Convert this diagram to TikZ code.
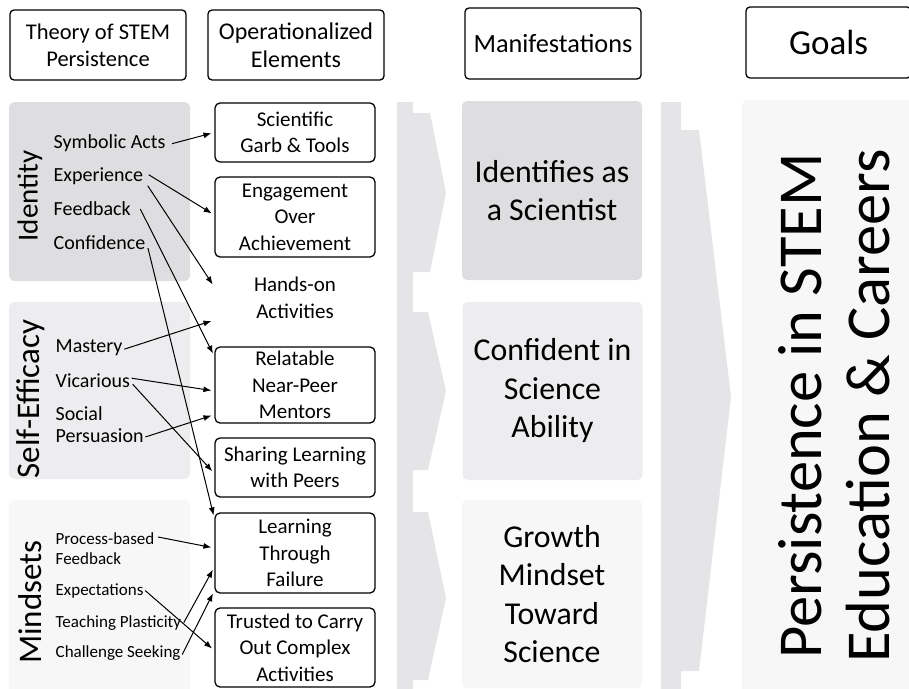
\documentclass[tikz,border=0pt]{standalone}
\usepackage{fontspec}
\setmainfont{Carlito}
\usetikzlibrary{arrows.meta,calc}
\definecolor{shadeA}{RGB}{222,222,224}
\definecolor{shadeB}{RGB}{237,236,238}
\definecolor{shadeC}{RGB}{248,247,248}
\definecolor{chev}{RGB}{229,229,231}
\begin{document}
\begin{tikzpicture}[x=1pt,y=-1pt,
  hdr/.style={draw, line width=1.3pt, rounded corners=4pt, align=center, inner sep=0pt},
  opbox/.style={draw, line width=1.3pt, rounded corners=5pt, align=center,
    minimum width=160pt, inner sep=0pt, font=\fontsize{21}{26.5}\selectfont},
  mbox/.style={rounded corners=5pt, align=center, minimum width=180pt,
    inner sep=0pt, font=\fontsize{31.8}{38.5}\selectfont},
  grp/.style={rounded corners=6pt},
  grplabel/.style={rotate=90, inner sep=0pt},
  item/.style={anchor=base west, inner sep=1.5pt, font=\fontsize{20}{22}\selectfont},
  smallitem/.style={anchor=base west, inner sep=1.5pt, font=\fontsize{17}{20}\selectfont},
  link/.style={line width=1pt, -{Latex[length=8pt,width=6pt]}, shorten >=3pt},
]
\clip (0,0) rectangle (909,688);
\useasboundingbox (0,0) rectangle (909,688);

% column headers
\node[hdr, minimum width=176pt, minimum height=70pt, font=\fontsize{22.5}{27}\selectfont]
  (hth) at (98,45) {Theory of STEM\\Persistence};
\node[hdr, minimum width=176pt, minimum height=70pt, font=\fontsize{24}{28}\selectfont]
  (hop) at (296,45) {Operationalized\\Elements};
\node[hdr, minimum width=176pt, minimum height=71pt, font=\fontsize{26.3}{30}\selectfont]
  (hman) at (553,43.5) {Manifestations};
\node[hdr, minimum width=165pt, minimum height=71pt, font=\fontsize{35}{40}\selectfont]
  (hgoal) at (828.5,42.5) {Goals};

% theory groups
\fill[grp, shadeA] (9,102) rectangle (190,281);
\fill[grp, shadeB] (9,302) rectangle (190,479);
\fill[grp, shadeC] (9,500) rectangle (190,710);
\node[grplabel, font=\fontsize{29}{34}\selectfont] (gid) at (30,196) {Identity};
\node[grplabel, font=\fontsize{33}{38}\selectfont] (gse) at (31,399) {Self-Efficacy};
\node[grplabel, font=\fontsize{33}{38}\selectfont] (gmi) at (30,602) {Mindsets};

% chevrons
\fill[chev] (397,102) -- (413,102) -- (413,113) -- (430,113) -- (446,193) -- (430,272)
  -- (413,272) -- (413,312) -- (428,312) -- (446,391) -- (428,470) -- (413,470)
  -- (413,512) -- (428,512) -- (446,598) -- (428,680) -- (413,680) -- (413,700)
  -- (397,700) -- cycle;
\fill[chev] (661,102) -- (681,102) -- (681,130) -- (699,130) -- (731,397) -- (699,671)
  -- (681,671) -- (681,700) -- (661,700) -- cycle;

% manifestations
\node[mbox, fill=shadeA, minimum height=179pt] (m1) at (552,190.5) {Identifies as\\a Scientist};
\node[mbox, fill=shadeB, minimum height=178pt] (m2) at (552.5,391) {Confident in\\Science\\Ability};
\node[mbox, fill=shadeC, minimum height=188pt] (m3) at (552,594) {Growth\\Mindset\\Toward\\Science};

% goals
\fill[grp, shadeC] (742,100) rectangle (920,710);
\node[rotate=90, align=center, inner sep=0pt, font=\fontsize{62.5}{68}\selectfont]
  (goal) at (834,406) {Persistence in STEM\\Education \& Careers};

% theory elements
\node[item] (sym) at (52,148) {Symbolic Acts};
\node[item] (exp) at (52,181) {Experience};
\node[item] (fb) at (52,215) {Feedback};
\node[item] (conf) at (52,249) {Confidence};
\node[item] (mas) at (54,352) {Mastery};
\node[item] (vic) at (54,387) {Vicarious};
\node[item, anchor=west, align=left] (soc) at (54,425) {Social\\Persuasion};
\node[smallitem, anchor=west, align=left] (pbf) at (54,549) {Process-based\\Feedback};
\node[smallitem] (expc) at (54,595) {Expectations};
\node[smallitem] (tp) at (54,627) {Teaching Plasticity};
\node[smallitem] (cs) at (54,657) {Challenge Seeking};

% operationalized elements
\node[opbox, minimum height=59pt] (garb) at (295,132.5) {Scientific\\Garb \& Tools};
\node[opbox, minimum height=80pt] (eng) at (295,217) {Engagement\\Over\\Achievement};
\node[opbox, draw=none, minimum height=40pt] (hands) at (295,298) {Hands-on\\Activities};
\node[opbox, minimum height=76pt] (rel) at (295,385) {Relatable\\Near-Peer\\Mentors};
\node[opbox, minimum height=59pt] (share) at (295,467.5) {Sharing Learning\\with Peers};
\node[opbox, minimum height=80pt] (learn) at (295,553) {Learning\\Through\\Failure};
\node[opbox, minimum height=79pt] (trust) at (295,647.5) {Trusted to Carry\\Out Complex\\Activities};

% links from theory to practice
\draw[link] ($(sym.east)+(5,1)$) -- (garb.west);
\draw[link] ($(exp.east)+(4,-1)$) -- ($(eng.west)+(0,-2)$);
\draw[link] ($(exp.east)+(3,10)$) -- ($(hands.west)+(0,-11)$);
\draw[link] ($(fb.east)+(8,1)$) -- ($(rel.north west)+(0,10)$);
\draw[link] ($(conf.east)+(1,6)$) -- ($(learn.north west)+(0,6)$);
\draw[link] ($(mas.east)+(0,2)$) -- ($(hands.west)+(0,22)$);
\draw[link] ($(vic.east)+(0,-2)$) -- ($(rel.west)+(0,6)$);
\draw[link] ($(vic.east)+(1,4)$) -- ($(share.west)+(0,6)$);
\draw[link] ($(soc.east)+(0,12)$) -- ($(rel.south west)+(0,-9)$);
\draw[link] ($(pbf.east)+(2,-12)$) -- ($(learn.west)+(0,-5)$);
\draw[link] (expc.east) -- ($(trust.west)+(0,3)$);
\draw[link] ($(tp.east)+(1,0)$) -- ($(learn.west)+(0,14)$);
\draw[link] ($(cs.east)+(0,2)$) -- ($(learn.south west)+(0,-3)$);
\end{tikzpicture}
\end{document}
